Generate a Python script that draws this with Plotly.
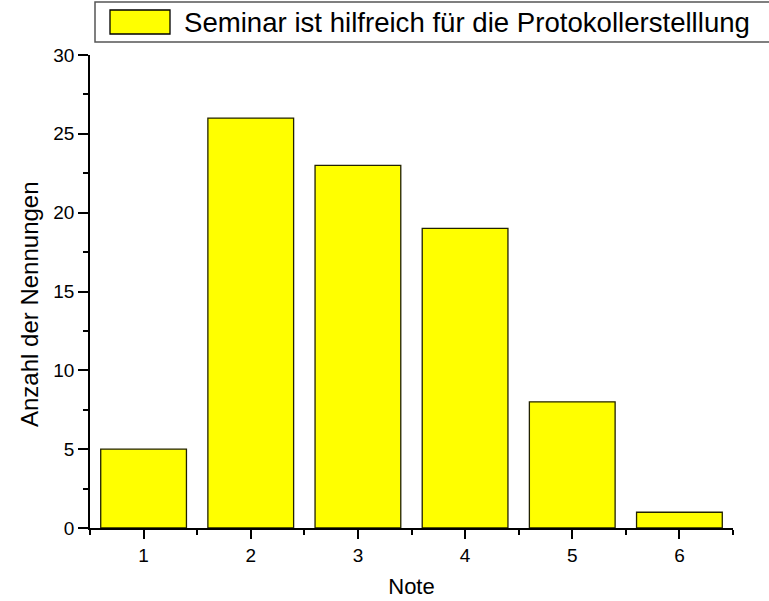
import plotly.graph_objects as go

categories = [1, 2, 3, 4, 5, 6]
counts = [5, 26, 23, 19, 8, 1]
series_name = "Seminar ist hilfreich für die Protokollerstelllung"
x_title = "Note"
y_title = "Anzahl der Nennungen"

W, H = 769, 601
L, R, T, B = 90, 36, 55, 73
pw, ph = W - L - R, H - T - B

def px(x):
    return (x - L) / pw

def py(y):
    return (H - B - y) / ph

fig = go.Figure()
fig.add_trace(go.Bar(
    x=categories, y=counts, name=series_name, width=0.8,
    marker=dict(color="#FFFF00", line=dict(color="#222200", width=1.3)),
    showlegend=False,
))

font = "Liberation Sans, Arial, sans-serif"
fig.update_layout(
    width=W, height=H,
    margin=dict(l=L, r=R, t=T, b=B, autoexpand=False),
    paper_bgcolor="white", plot_bgcolor="white",
    font=dict(family=font, color="black", size=19),
    xaxis=dict(
        range=[0.5, 6.5], tickvals=categories, ticks="outside", ticklen=9, tickwidth=1.5,
        tickcolor="black", showline=True, linecolor="black", linewidth=1.5,
        showgrid=False, zeroline=False, tickfont=dict(size=19), automargin=False,
        minor=dict(tick0=0.5, dtick=1, ticks="outside", ticklen=5, tickwidth=1.5, tickcolor="black"),
        title=dict(text=x_title, font=dict(size=22), standoff=14),
    ),
    yaxis=dict(
        range=[0, 30], dtick=5, ticks="outside", ticklen=10, tickwidth=1.5,
        tickcolor="black", showline=True, linecolor="black", linewidth=1.5,
        showgrid=False, zeroline=False, tickfont=dict(size=19), automargin=False,
        minor=dict(dtick=2.5, ticks="outside", ticklen=5, tickwidth=1.5, tickcolor="black"),
    ),
    bargap=0.2,
)

# Y axis title (placed slightly below the axis centre as in the reference)
fig.add_annotation(x=px(29), y=py(304), xref="paper", yref="paper",
                   text=y_title, showarrow=False, textangle=-90,
                   xanchor="center", yanchor="middle",
                   font=dict(size=24, family=font, color="black"))

# Legend box drawn to match the reference style
fig.add_shape(type="rect", xref="paper", yref="paper",
              x0=px(95), x1=px(800), y0=py(42), y1=py(2),
              line=dict(color="#555555", width=1.5), fillcolor="white", layer="above")
fig.add_shape(type="rect", xref="paper", yref="paper",
              x0=px(110), x1=px(170), y0=py(34), y1=py(10),
              line=dict(color="black", width=1.3), fillcolor="#FFFF00", layer="above")
fig.add_annotation(x=px(182), y=py(22), xref="paper", yref="paper",
                   text=series_name, showarrow=False, xanchor="left", yanchor="middle",
                   font=dict(size=27.6, family=font, color="black"))

fig.write_html("out.html", config={"displayModeBar": False},
               post_script="document.body.style.margin='0px';")
